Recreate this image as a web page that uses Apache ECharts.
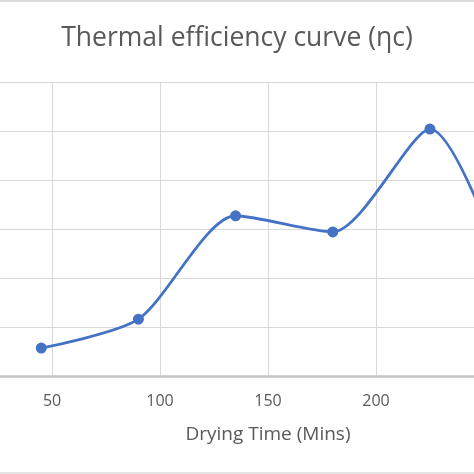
<!DOCTYPE html>
<html>
<head>
<meta charset="utf-8">
<script src="https://cdn.jsdelivr.net/npm/echarts@6/dist/echarts.min.js"></script>
<style>
html,body{margin:0;padding:0;background:#fff;}
#chart{width:474px;height:474px;}
</style>
</head>
<body>
<div id="chart"></div>
<script>
// Data
var titleText = 'Thermal efficiency curve (\u03b7c)';
var xAxisName = 'Drying Time (Mins)';
var xTicks = [50, 100, 150, 200, 250];
var dryingTime = [45, 90, 135, 180, 225, 270];
var efficiency = [5.7, 11.6, 32.7, 29.4, 50.4, 8];

var chart = echarts.init(document.getElementById('chart'), null, {renderer: 'canvas'});
var seriesData = dryingTime.map(function (t, i) { return [t, efficiency[i]]; });

chart.setOption({
  animation: false,
  backgroundColor: '#ffffff',
  title: {
    text: titleText,
    left: 'center',
    top: 20,
    textStyle: {fontFamily: 'Open Sans', fontSize: 26.5, fontWeight: 'normal', color: '#595959'}
  },
  grid: {left: 0, right: 0, top: 82, bottom: 98, containLabel: false},
  xAxis: {
    type: 'value', min: 25.9, max: 245.4,
    name: xAxisName, nameLocation: 'middle', nameGap: 49,
    nameTextStyle: {fontFamily: 'Open Sans', fontSize: 19, color: '#595959', padding: [0, 0, 0, 62]},
    axisLine: {show: true, lineStyle: {color: '#c4c4c4', width: 2.5}},
    axisTick: {show: false, customValues: xTicks},
    axisLabel: {fontFamily: 'Open Sans', fontSize: 16, color: '#595959', margin: 17, customValues: xTicks},
    splitLine: {show: true, lineStyle: {color: '#d9d9d9', width: 1}}
  },
  yAxis: {
    type: 'value', min: 0, max: 60, interval: 10,
    axisLine: {show: false}, axisTick: {show: false},
    axisLabel: {show: false},
    splitLine: {show: true, lineStyle: {color: '#d9d9d9', width: 1}}
  },
  series: [{
    type: 'line',
    data: seriesData,
    smooth: 0.25,
    symbol: 'circle', symbolSize: 11,
    lineStyle: {color: '#4472c4', width: 2.8},
    itemStyle: {color: '#4472c4'}
  }],
  graphic: [
    {type: 'rect', shape: {x: 0, y: 0, width: 474, height: 2}, style: {fill: '#dcdcdc'}},
    {type: 'rect', shape: {x: 0, y: 472, width: 474, height: 2}, style: {fill: '#e4e4e4'}}
  ]
});
</script>
</body>
</html>
